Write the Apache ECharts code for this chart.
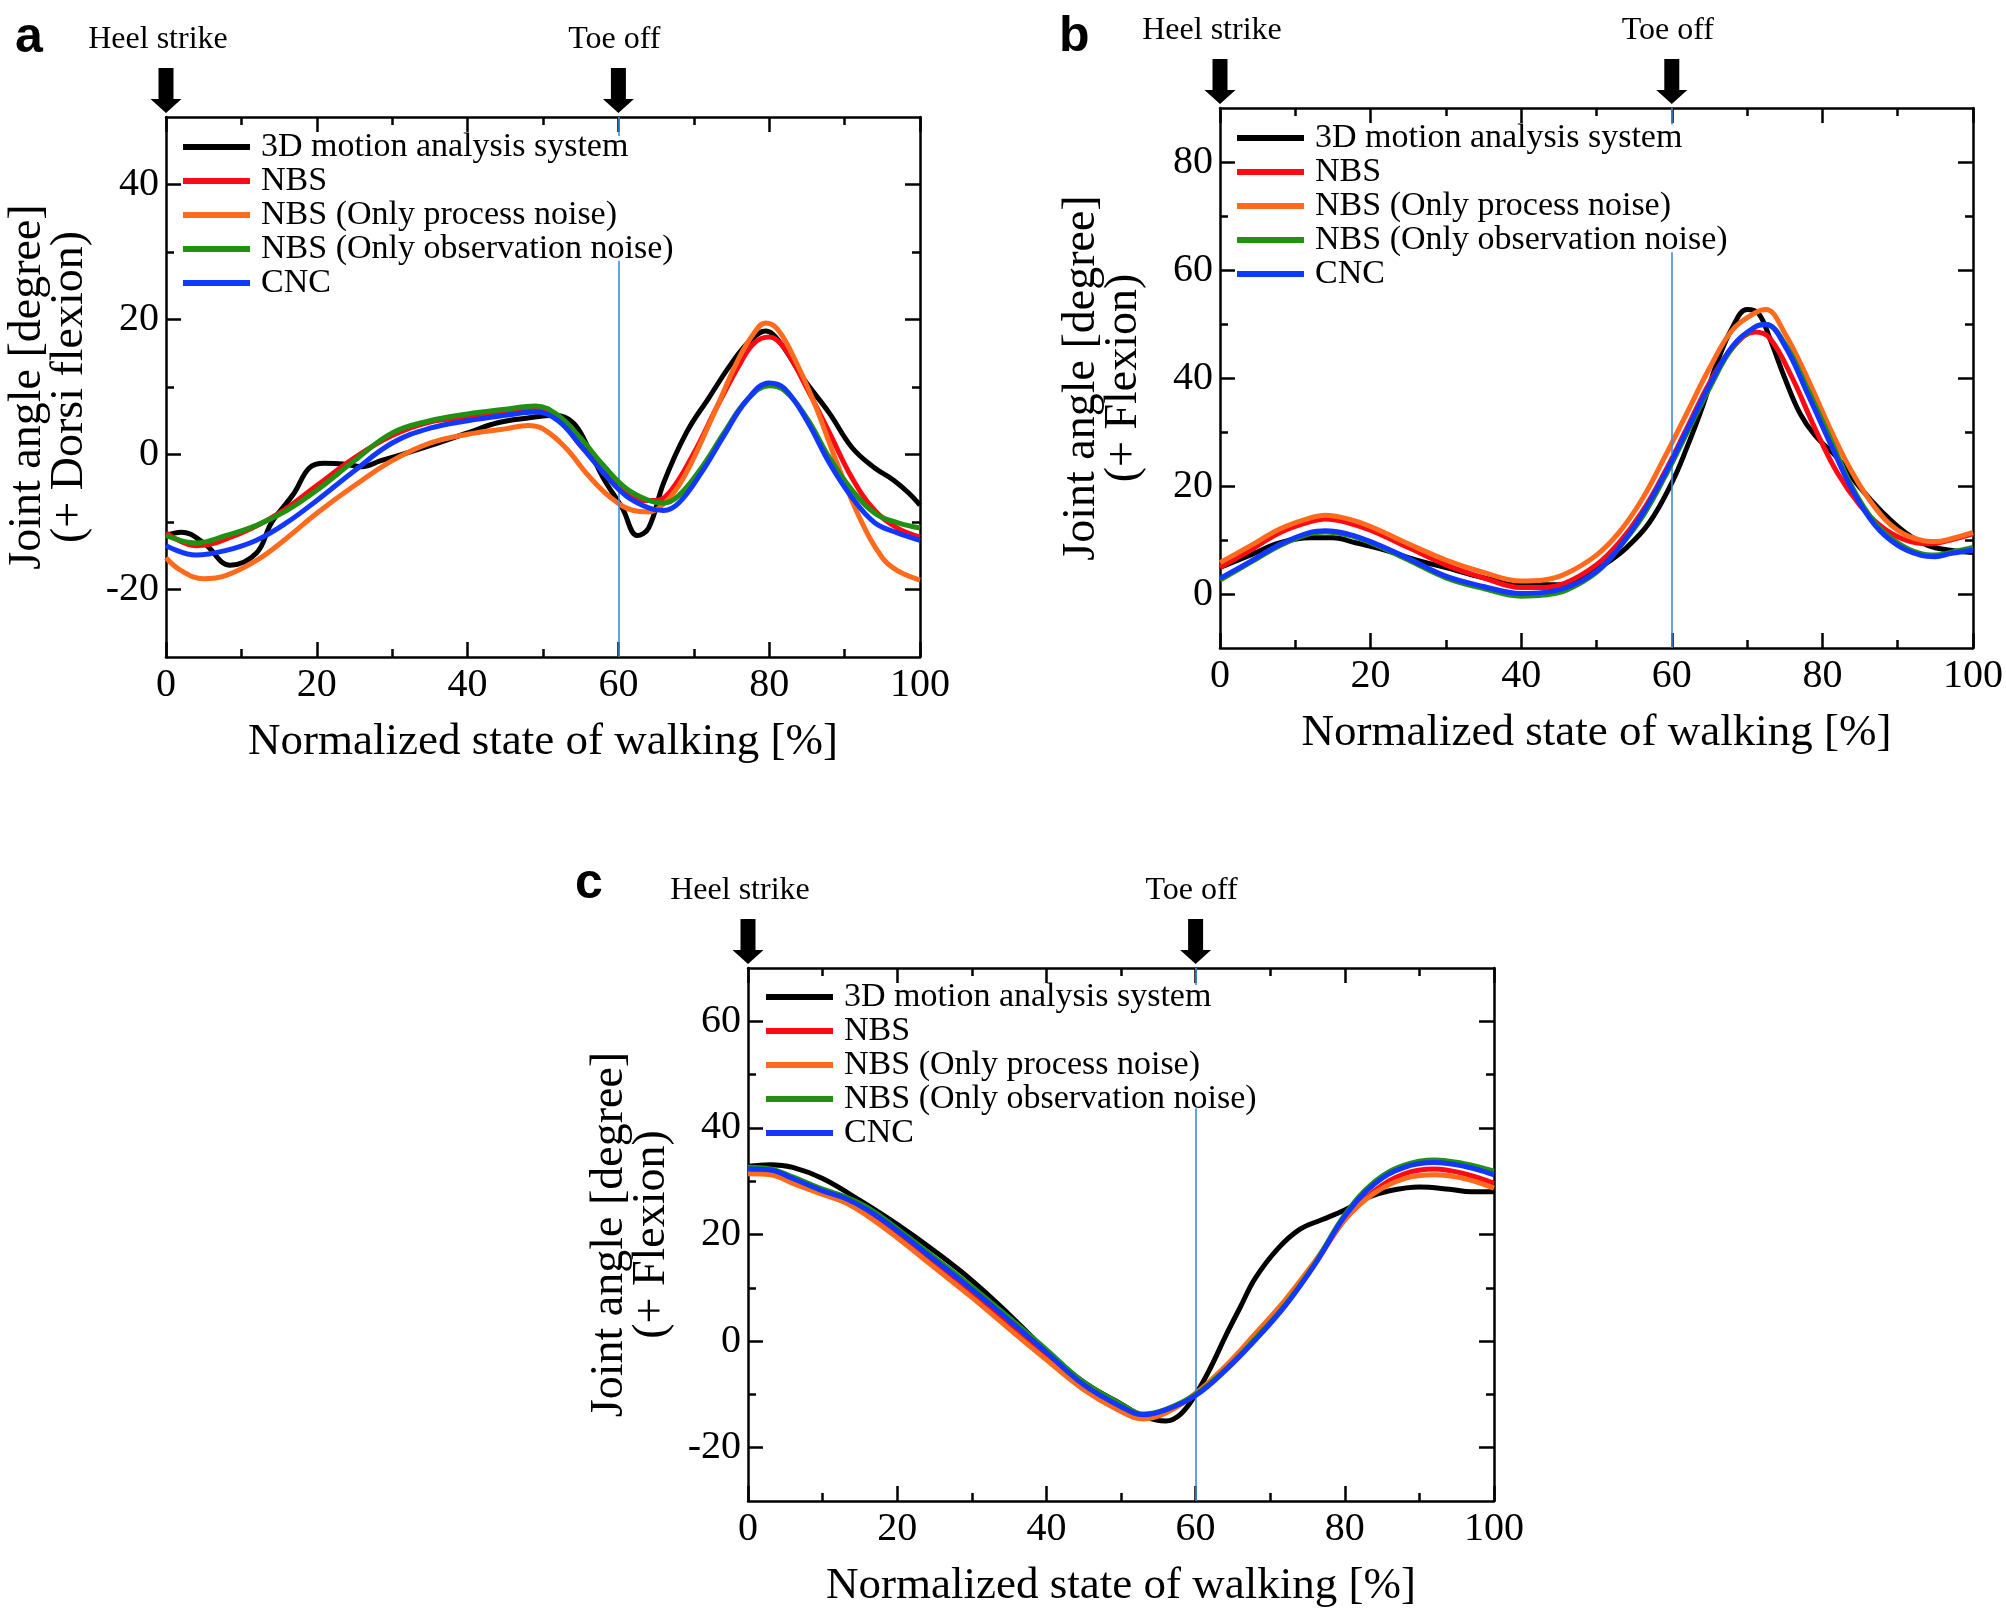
<!DOCTYPE html>
<html>
<head>
<meta charset="utf-8">
<script src="https://cdn.jsdelivr.net/npm/echarts@6/dist/echarts.min.js"></script>
<style>
html,body{margin:0;padding:0;background:#fff;}
#chart{width:2006px;height:1612px;}
</style>
</head>
<body>
<div id="chart"></div>
<script>
// ---------- data ----------
const seriesNames = ['3D motion analysis system', 'NBS', 'NBS (Only process noise)', 'NBS (Only observation noise)', 'CNC'];
const seriesColors = ['#000000', '#ff0a14', '#ff6a1c', '#229010', '#1238ff'];
const panelLetters = ['a', 'b', 'c'];
const eventLabels = ['Heel strike', 'Toe off'];
const eventX = [0, 60];
const xTitle = 'Normalized state of walking [%]';
const yTitles = ['Joint angle [degree]\n(+ Dorsi flexion)', 'Joint angle [degree]\n(+ Flexion)', 'Joint angle [degree]\n(+ Flexion)'];
const xTicks = [0, 20, 40, 60, 80, 100];
const yRanges = [[-30, 50], [-10, 90], [-30, 70]];
const yMajorTicks = [[-20, 0, 20, 40], [0, 20, 40, 60, 80], [-20, 0, 20, 40, 60]];
const yMinorTicks = [[-10, 10, 30], [10, 30, 50, 70], [-10, 10, 30, 50]];
// toe-off guide line: visible segments (hidden behind legend in between)
const toeOffSegments = [
  [[50, 47.2], [28.7, -30]],
  [[90, 87], [63.3, -10]],
  [[70, 66.8], [43.7, -30]]
];

// Panel a (ankle)
const a_x3D = [0,2,5,8.5,12,14,17,19,21,23.5,26,28.5,31,35,40,44,48,51.5,54,56,58,60.5,62.5,64,66,69,72,75,77.5,79.5,81.5,84.5,88,91,94,96.5,98.5,100];
const a_y3D = [-12,-11.5,-13.1,-16.4,-14.6,-10.1,-5.7,-2,-1.3,-1.4,-1.8,-0.9,-0.1,1.3,3.2,4.7,5.4,5.8,4.7,1,-3.5,-7.9,-12,-10.9,-4.2,3.2,8.4,13.5,16.9,18.3,16.5,11.3,6.1,1,-2,-3.8,-5.7,-7.5];
const a_xNBS = [0,4,10,15,20,25,30,35,40,45,49,52,55,60,63,65,67,70,73,76,78,80,82,85,88,91,94,97,100];
const a_yNBS = [-11.6,-13.5,-11.6,-8.7,-4.6,-0.5,2.8,4.8,5.5,6.1,6.7,5.4,1.3,-4.6,-6.8,-6.8,-5.3,0.2,6.9,13.2,16.5,17.4,15.8,9.8,3.2,-3.5,-8.3,-10.9,-12.2];
const a_xProc = [0,2,5,8,12,16,20,25,30,35,40,45,48,50,53,56,59,62,64,66,68,70,73,76,78,79.5,81,83,86,89,92,95,97,100];
const a_yProc = [-15.3,-17.2,-18.4,-17.9,-15.7,-12.4,-8.7,-4.6,-0.9,1.7,3.0,3.8,4.3,3.8,1.0,-3.1,-6.4,-8.3,-8.5,-7.3,-4.6,-0.5,6.9,14.3,18.0,19.5,18.7,15.0,7.6,-1.3,-9.4,-15.3,-17.2,-18.6];
const a_xObs = [0,4,8,12,16,20,25,30,35,40,45,49,52,55,58,61,64,66,68,71,74,77,80,82,85,88,91,94,97,100];
const a_yObs = [-12,-13.1,-12,-10.5,-8.3,-5.3,-0.9,3.2,5.0,6.0,6.7,7.2,5.8,2.4,-1.6,-5.0,-6.8,-7.2,-6.1,-2.0,3.2,8.0,10.2,9.5,5.4,-0.5,-5.3,-8.7,-10.1,-10.9];
const a_xCNC = a_xObs;
const a_yCNC = [-13.5,-14.9,-14.2,-12.7,-10.1,-6.8,-2.4,1.7,3.9,5.0,5.8,6.3,5.0,1.3,-2.7,-6.1,-7.9,-8.3,-7.2,-2.7,2.8,8.0,10.6,9.8,5.0,-1.3,-6.4,-10.1,-11.6,-12.7];

// Panel b (knee)
const b_x3D = [0,4,8,12,15,18,22,26,30,35,40,45,48,51,54,57,60,62,64,66,68,70,71.5,73,75,77,79,82,85,88,91,94,97,100];
const b_y3D = [4.9,7.2,9.5,10.4,10.4,9.5,8.1,6.3,4.9,3.0,1.9,1.7,3.0,5.4,8.6,13.2,20.6,27.1,34.4,42.8,49.2,52.7,52.0,47.4,40.0,33.5,29.4,25.2,19.7,15.1,11.4,9.0,8.1,7.7];
const b_xNBS = [0,4,8,12,14,17,20,25,30,35,40,43,46,50,53,56,59,62,65,68,71,73,76,79,82,85,88,91,94,97,100];
const b_yNBS = [4.9,8.1,11.4,13.4,13.9,13.2,11.8,8.6,5.4,3.0,1.2,1.2,2.1,5.4,9.5,15.1,22.4,30.7,39.1,45.5,48.5,47.4,40.0,30.7,22.4,16.4,12.3,10.0,9.3,10.0,11.2];
const b_xProc = [0,4,8,12,14,17,20,25,30,35,40,43,46,50,53,56,59,62,65,68,71,72.5,75,78,81,84,87,90,93,95,97,100];
const b_yProc = [5.8,8.9,12.1,14.1,14.6,13.9,12.5,9.3,6.3,4.0,2.4,2.6,3.8,7.2,11.4,17.4,25.2,33.5,41.8,48.8,52.0,52.7,48.3,40.0,30.7,22.4,16.0,11.8,10.0,9.7,10.2,11.4];
const b_xObs = b_xProc;
const b_yObs = [2.6,5.8,9.0,11.2,11.5,10.9,9.5,6.3,3.0,1.0,-0.4,-0.2,0.7,4.0,8.6,14.1,21.5,29.8,38.1,45.5,49.4,49.9,46.4,38.1,28.9,19.7,13.2,9.5,7.5,7.2,7.7,8.6];
const b_xCNC = b_xProc;
const b_yCNC = [2.9,6.0,9.2,11.4,11.7,11.1,9.7,6.6,3.3,1.4,0.1,0.3,1.2,4.2,8.6,14.6,22.0,30.3,38.6,45.8,49.4,49.9,46.0,37.2,28.0,19.2,12.7,9.0,7.2,6.9,7.5,8.1];

// Panel c (hip)
const c_x3D = [0,3,6,10,15,20,25,30,35,40,45,50,53,56,58,60,62,64,66,68,71,74,77,80,83,86,90,94,97,100];
const c_y3D = [32.8,33.1,32.6,30.5,26.4,21.9,16.9,11.4,5.0,-1.8,-7.7,-11.8,-14.1,-15.0,-13.7,-10.0,-5.0,0.9,6.4,11.8,17.3,21.0,22.8,24.6,26.9,28.2,28.9,28.5,28.0,28.0];
const c_xEst = [0,3,6,10,13,16,20,25,30,35,40,45,50,53,56,60,64,68,72,76,80,84,88,92,96,100];
const c_yNBS = [31.9,31.6,30.1,27.8,26.4,24.1,20.0,14.6,9.1,3.2,-2.7,-8.7,-12.8,-14.1,-13.2,-10.0,-5.0,0.9,7.3,14.6,22.8,28.2,31.4,32.3,31.4,29.6];
const c_yProc = [31.4,31.2,29.6,27.5,26.0,23.5,19.4,13.8,8.2,2.3,-3.5,-9.1,-13.2,-14.6,-13.5,-9.8,-4.7,1.4,7.7,15.0,22.8,27.8,30.5,31.2,30.5,28.7];
const c_yObs = [32.6,32.3,30.8,28.5,27.1,25.1,21.1,15.7,10.2,4.4,-1.6,-7.7,-11.8,-13.7,-12.8,-10.0,-5.3,0.5,6.8,14.6,23.7,29.9,33.0,34.0,33.3,31.9];
const c_yCNC = [32.3,32.1,30.5,28.2,26.8,24.6,20.7,15.2,9.7,3.9,-2.1,-8.2,-12.3,-13.8,-12.9,-10.2,-5.5,0.2,6.6,14.4,23.4,29.5,32.6,33.5,32.8,31.2];

const panelData = [
  [[a_x3D, a_y3D], [a_xNBS, a_yNBS], [a_xProc, a_yProc], [a_xObs, a_yObs], [a_xCNC, a_yCNC]],
  [[b_x3D, b_y3D], [b_xNBS, b_yNBS], [b_xProc, b_yProc], [b_xObs, b_yObs], [b_xCNC, b_yCNC]],
  [[c_x3D, c_y3D], [c_xEst, c_yNBS], [c_xEst, c_yProc], [c_xEst, c_yObs], [c_xEst, c_yCNC]]
];

// ---------- layout / style ----------
const SERIF = '"Liberation Serif", "Times New Roman", serif';
const SANS = '"Liberation Sans", Arial, sans-serif';
const grids = [
  {left: 166, top: 117, width: 754, height: 540},
  {left: 1220, top: 108, width: 753, height: 540},
  {left: 748, top: 968, width: 746, height: 533}
];
const legendPos = [{left: 183, top: 130}, {left: 1237, top: 121}, {left: 766, top: 980}];
const letterPos = [[31, 43], [1075, 42], [591, 889]];
const AX = '#000';
const LW = 2.5;

const option = {
  backgroundColor: '#fff',
  animation: false,
  grid: grids.map(g => Object.assign({containLabel: false, outerBoundsMode: 'none'}, g)),
  legend: [], xAxis: [], yAxis: [], series: [], graphic: []
};

grids.forEach((g, i) => {
  option.legend.push({
    data: seriesNames.slice(), orient: 'vertical', left: legendPos[i].left, top: legendPos[i].top,
    padding: 0, itemGap: 0, itemWidth: 67, itemHeight: 6, icon: 'rect', selectedMode: false,
    textStyle: {fontFamily: SERIF, fontSize: 34, color: '#000', lineHeight: 34, padding: [0, 0, 0, 6]}
  });
  const baseX = {
    gridIndex: i, type: 'value', min: 0, max: 100, interval: 20,
    axisLine: {show: true, onZero: false, lineStyle: {color: AX, width: LW}},
    axisTick: {show: true, inside: true, length: 15, lineStyle: {color: AX, width: LW}},
    minorTick: {show: true, splitNumber: 2, length: 8, lineStyle: {color: AX, width: LW}},
    splitLine: {show: false}, minorSplitLine: {show: false}
  };
  option.xAxis.push(Object.assign({}, baseX, {
    position: 'bottom',
    axisLabel: {show: true, fontFamily: SERIF, fontSize: 40, color: '#000', margin: 8},
    name: xTitle, nameLocation: 'middle', nameGap: 63,
    nameTextStyle: {fontFamily: SERIF, fontSize: 45, color: '#000'}
  }));
  option.xAxis.push(Object.assign({}, baseX, {position: 'top', axisLabel: {show: false}}));

  const yr = yRanges[i];
  const mkY = (pos, major, withLabel) => {
    const ticks = major ? yMajorTicks[i] : yMinorTicks[i];
    const o = {
      gridIndex: i, type: 'value', min: yr[0], max: yr[1], position: pos,
      axisLine: {show: major, onZero: false, lineStyle: {color: AX, width: LW}},
      axisTick: {show: true, inside: true, length: major ? 15 : 8, customValues: ticks, lineStyle: {color: AX, width: LW}},
      splitLine: {show: false},
      axisLabel: withLabel ? {show: true, customValues: yMajorTicks[i], fontFamily: SERIF, fontSize: 40, color: '#000', margin: 7} : {show: false}
    };
    if (withLabel) {
      o.name = yTitles[i];
      o.nameLocation = 'middle';
      o.nameGap = 75;
      o.nameTextStyle = {fontFamily: SERIF, fontSize: 46, color: '#000', lineHeight: 42};
    }
    return o;
  };
  option.yAxis.push(mkY('left', true, true));
  option.yAxis.push(mkY('left', false, false));
  option.yAxis.push(mkY('right', true, false));
  option.yAxis.push(mkY('right', false, false));

  panelData[i].forEach((pair, k) => {
    const s = {
      name: seriesNames[k], type: 'line', xAxisIndex: 2 * i, yAxisIndex: 4 * i,
      data: pair[0].map((x, j) => [x, pair[1][j]]),
      smooth: 0.4, showSymbol: false, symbol: 'none', clip: true,
      color: seriesColors[k],
      lineStyle: {width: 5, color: seriesColors[k]},
      z: 2 + k
    };
    if (k === 0) {
      const seg = toeOffSegments[i];
      s.markLine = {
        silent: true, symbol: 'none', animation: false,
        label: {show: false},
        lineStyle: {color: '#3f8ae0', width: 1.6, type: 'solid'},
        data: seg.map(p => [{coord: [eventX[1], p[0]]}, {coord: [eventX[1], p[1]]}])
      };
      s.markPoint = {
        silent: true, animation: false,
        symbol: 'path://M8,0L23,0L23,31L31,31L15.5,45L0,31L8,31Z',
        symbolSize: [31, 45], symbolOffset: [0, -26.5],
        itemStyle: {color: '#000'},
        data: eventLabels.map((lab, e) => ({
          name: lab, coord: [eventX[e], yr[1]],
          label: {show: true, position: 'top', distance: 12, formatter: '{b}', offset: [e === 0 ? -8 : -4, 0],
                  fontFamily: SERIF, fontSize: 32, color: '#000'}
        }))
      };
    }
    option.series.push(s);
  });

  option.graphic.push({
    type: 'text', left: letterPos[i][0] - 16, top: letterPos[i][1] - 30,
    style: {text: panelLetters[i], font: 'bold 50px ' + SANS, fill: '#000'}
  });
});

const chart = echarts.init(document.getElementById('chart'), null, {renderer: 'canvas'});
chart.setOption(option);
</script>
</body>
</html>
